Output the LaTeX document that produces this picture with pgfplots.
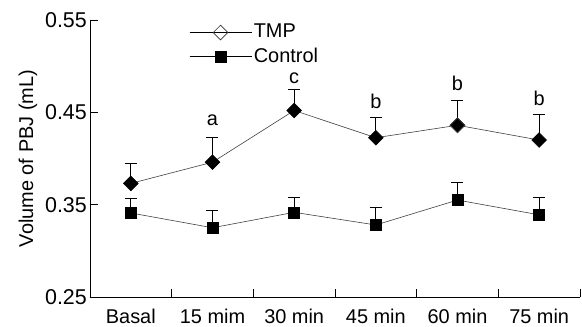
\documentclass[border=0pt]{standalone}
\usepackage{fontspec}
\setmainfont{Liberation Sans}
\usepackage{pgfplots}
\pgfplotsset{compat=1.18}
\newcommand{\bigf}{\fontsize{20pt}{24pt}\selectfont}
\newcommand{\tickf}{\fontsize{21.5pt}{25pt}\selectfont}
\begin{document}
\bigf
\begin{tikzpicture}
\path[use as bounding box] (-90bp,-30bp) rectangle (492bp,297bp);
\begin{axis}[
  scale only axis, width=490bp, height=277bp,
  at={(0,0)}, anchor=south west,
  xmin=-0.5, xmax=5.5, ymin=0.25, ymax=0.55,
  axis x line*=bottom, axis y line*=left,
  axis line style={-, line width=0.9pt},
  xtick={0,1,2,3,4,5},
  xticklabels={Basal,15 mim,30 min,45 min,60 min,75 min},
  major x tick style={draw=none},
  minor xtick={0.5,1.5,2.5,3.5,4.5,5.5},
  minor tick length=8bp,
  minor x tick style={line width=0.9pt, black},
  ytick={0.25,0.35,0.45,0.55},
  major tick length=8bp,
  y tick style={line width=0.9pt, black},
  tick align=inside,
  yticklabel style={font=\tickf, inner sep=3bp, /pgf/number format/.cd, fixed, fixed zerofill, precision=2, assume math mode=true},
  xticklabel style={font=\bigf, inner sep=2bp, yshift=-10bp},
  ylabel={Volume of PBJ (mL)},
  ylabel style={font=\bigf, yshift=-2bp},
  clip=false,
  legend style={draw=none, fill=none, at={(0.196,1.0)}, anchor=north west,
    font=\bigf, row sep=3bp,
    /tikz/every even column/.append style={column sep=2bp}},
  legend cell align=left,
  legend image code/.code={\draw[mark repeat=2,mark phase=2,#1] plot coordinates {(0bp,0bp) (31bp,0bp) (62bp,0bp)};},
]
\addlegendimage{black, line width=0.6pt, mark=square, mark size=5.2bp, mark options={rotate=45, draw=black!80, fill=white, line width=0.6pt}}
\addlegendentry{TMP}
\addlegendimage{black, line width=0.6pt, mark=square*, mark size=5.5bp, mark options={fill=black}}
\addlegendentry{Control}
% TMP
\addplot[black!75, line width=0.6pt, mark=square*, mark size=5.2bp,
  mark options={rotate=45, fill=black, draw=black},
  error bars/.cd, y dir=plus, y explicit,
  error bar style={black, line width=1pt},
  error mark options={rotate=90, mark size=6bp, line width=1pt, black}]
  coordinates {
  (0,0.373) +- (0,0.022)
  (1,0.396) +- (0,0.027)
  (2,0.452) +- (0,0.023)
  (3,0.4225) +- (0,0.0215)
  (4,0.436) +- (0,0.027)
  (5,0.420) +- (0,0.028)
  };
\addplot[only marks, mark=square, mark size=5.2bp,
  mark options={rotate=45, fill=white, draw=black!75, line width=0.6pt}]
  coordinates {(4,0.436)};
\draw[black, line width=1pt] (axis cs:4,0.436) -- (axis cs:4,0.463);
% Control
\addplot[black!75, line width=0.6pt, mark=square*, mark size=5.5bp,
  mark options={fill=black, draw=black},
  error bars/.cd, y dir=plus, y explicit,
  error bar style={black, line width=1pt},
  error mark options={rotate=90, mark size=6bp, line width=1pt, black}]
  coordinates {
  (0,0.341) +- (0,0.016)
  (1,0.325) +- (0,0.0185)
  (2,0.3417) +- (0,0.0156)
  (3,0.328) +- (0,0.019)
  (4,0.355) +- (0,0.0186)
  (5,0.339) +- (0,0.019)
  };
\node[anchor=base, inner sep=0pt, yshift=12bp] at (axis cs:1,0.423) {a};
\node[anchor=base, inner sep=0pt, yshift=6bp] at (axis cs:2,0.475) {c};
\node[anchor=base, inner sep=0pt, yshift=9.5bp] at (axis cs:3,0.444) {b};
\node[anchor=base, inner sep=0pt, yshift=9.5bp] at (axis cs:4,0.463) {b};
\node[anchor=base, inner sep=0pt, yshift=8.5bp] at (axis cs:5,0.448) {b};
\end{axis}
\end{tikzpicture}
\end{document}
